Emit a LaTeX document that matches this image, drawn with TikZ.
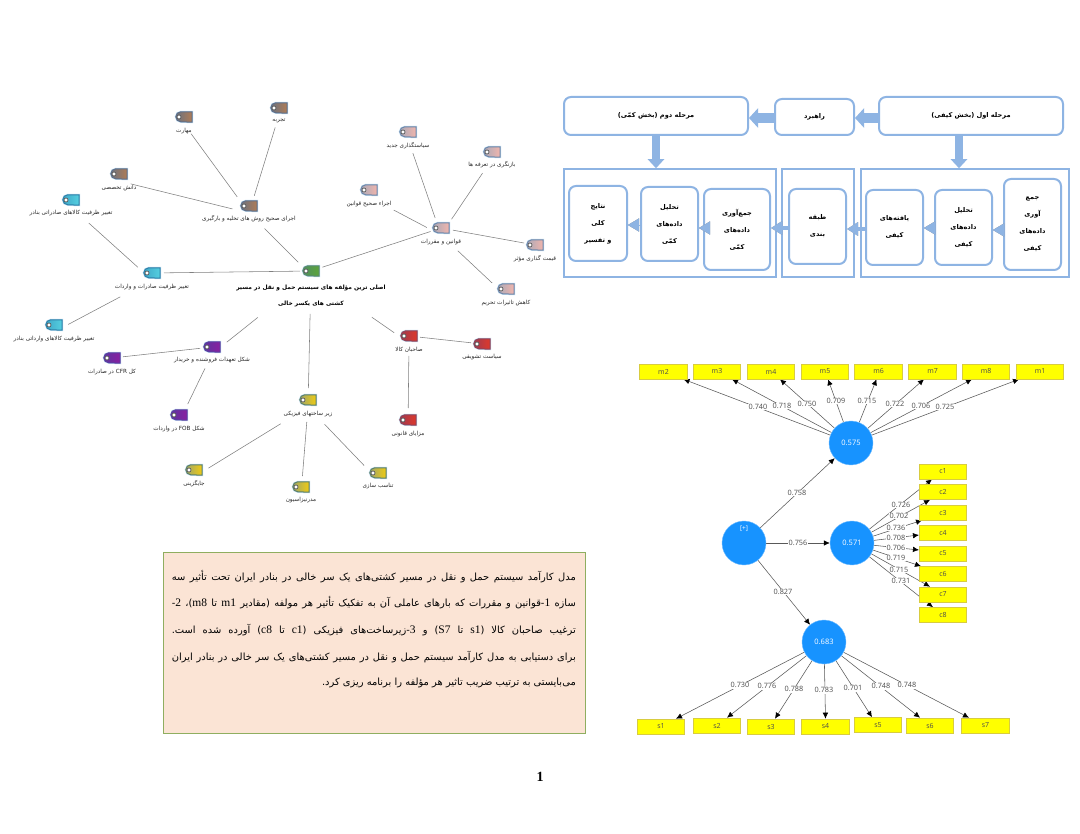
\documentclass[tikz,border=0pt]{standalone}
\usepackage{fontspec}
\usetikzlibrary{arrows.meta}
\setmainfont{Liberation Serif}
\newfontfamily\arabicfont[Script=Arabic]{DejaVu Sans}
\newfontfamily\semfont{Open Sans}
\TeXXeTstate=1
\pgfdeclarelayer{bgl}
\pgfsetlayers{bgl,main}
\definecolor{flow}{HTML}{8EB4E3}
\definecolor{semblue}{HTML}{1793FF}
\definecolor{ybord}{HTML}{D8CC40}
\definecolor{yfill}{HTML}{FFFF00}
\definecolor{notefill}{HTML}{FBE4D5}
\definecolor{noteborder}{HTML}{8FAE60}
\definecolor{halo}{HTML}{BFDDF2}
\definecolor{brF}{HTML}{B07C55}\definecolor{brL}{HTML}{6B7280}\definecolor{brB}{HTML}{5E6E88}
\definecolor{cyF}{HTML}{55CFE0}\definecolor{cyL}{HTML}{3FA8C8}\definecolor{cyB}{HTML}{2E80A8}
\definecolor{piF}{HTML}{F2B5AC}\definecolor{piL}{HTML}{A9A9B8}\definecolor{piB}{HTML}{6F86A8}
\definecolor{grF}{HTML}{5DA53A}\definecolor{grL}{HTML}{4F8F60}\definecolor{grB}{HTML}{5A8A70}
\definecolor{puF}{HTML}{8A1FA0}\definecolor{puL}{HTML}{5B35A0}\definecolor{puB}{HTML}{5A3FA0}
\definecolor{reF}{HTML}{E0382A}\definecolor{reL}{HTML}{A03A50}\definecolor{reB}{HTML}{8E4258}
\definecolor{yeF}{HTML}{F0CB12}\definecolor{yeL}{HTML}{A0A868}\definecolor{yeB}{HTML}{5E8068}
\newcommand{\la}[1]{\beginL #1\endL{}}
\newcommand{\nla}[1]{\beginL{\rmfamily\fontsize{11.5}{12}\selectfont #1}\endL{}}
\tikzset{
  x=1pt,y=-1pt,
  flowbox/.style={draw=flow,line width=2pt,fill=white,rounded corners=7pt,inner sep=0pt,align=center,font=\arabicfont\bfseries\fontsize{6.6}{17}\selectfont},
  frameb/.style={draw=flow,line width=1.5pt,inner sep=0pt},
  blockarr/.style={draw=flow,line width=10pt,-{Triangle[length=9pt,width=19pt]}},
  smallarr/.style={draw=flow,line width=#1,-{Triangle[length=11pt,width=13pt]}},
  smallshadow/.style={draw=black!45,line width=#1,-{Triangle[length=11pt,width=13pt]}},
  tagshape/.style={line width=1pt,preaction={draw=halo,line width=2pt}},
  tagbrown/.style={tagshape,draw=brB,left color=brL,middle color=brF,right color=brF},
  tagcyan/.style={tagshape,draw=cyB,left color=cyL,middle color=cyF,right color=cyF},
  tagpink/.style={tagshape,draw=piB,left color=piL,middle color=piF,right color=piF},
  taggreen/.style={tagshape,draw=grB,left color=grL,middle color=grF,right color=grF},
  tagpurple/.style={tagshape,draw=puB,left color=puL,middle color=puF,right color=puF},
  tagred/.style={tagshape,draw=reB,left color=reL,middle color=reF,right color=reF},
  tagyellow/.style={tagshape,draw=yeB,left color=yeL,middle color=yeF,right color=yeF},
  tagbase/.style={inner sep=0pt,minimum width=16pt,minimum height=10pt},
  tagdot/.style={circle,draw=black!65,fill=white,line width=0.7pt,minimum size=4pt,inner sep=0pt},
  taglabel/.style={inner sep=0pt,font=\arabicfont\fontsize{5.7}{7}\selectfont,text=black!85},
  mind/.style={draw=black!50,line width=0.55pt},
  ybox/.style={draw=ybord,line width=0.6pt,fill=yfill,minimum width=47.5pt,minimum height=15pt,inner sep=0pt,font=\semfont\fontsize{7}{8}\selectfont,text=black!70},
  semcirc/.style={circle,fill=semblue,draw=semblue!60!white,line width=0.4pt,minimum size=44pt,inner sep=0pt,text=white,font=\semfont\fontsize{7.5}{8}\selectfont},
  semline/.style={draw=black!65,line width=0.55pt,-{Latex[length=6pt,width=5.5pt,black]}},
  semlab/.style={fill=white,inner sep=0.8pt,font=\semfont\fontsize{7.3}{8}\selectfont,text=black!70},
  noteline/.style={anchor=east,inner sep=0pt,font=\arabicfont\fontsize{9.9}{12}\selectfont},
}
\newcommand{\tagbody}[4]{%
  \node[tagbase] (#1t) at (#2,#3) {};
  \path[#4] (#1t.north east) -- ([xshift=5pt]#1t.north west) arc (90:270:5pt) -- (#1t.south east) -- cycle;
  \node[tagdot] (#1d) at (#2-5,#3) {};
}
\newcommand{\tagitem}[6]{%
  \tagbody{#1}{#2}{#3}{#4}
  \node[taglabel] (#1l) at (#2,#3+#6) {#5};
  \coordinate (#1) at (#2,#3+7);
}
\newcommand{\conn}[4]{\draw[mind,shorten <=#3pt,shorten >=#4pt] (#1) -- (#2);}
\newcommand{\sembox}[4]{\node[ybox] (#1) at (#2,#3) {#4};}
\newcommand{\semarr}[6]{%
  \begin{pgfonlayer}{bgl}
  \draw[semline] (#2) -- (#3);
  \node[semlab] (#1) at (#4,#5) {#6};
  \end{pgfonlayer}
}
\newcommand{\flowsmall}[3]{%
  \draw[smallshadow=#3,shift={(0.6pt,-1.5pt)}] #1 -- #2;
  \draw[smallarr=#3] #1 -- #2;
}
\begin{document}
\begin{tikzpicture}
\useasboundingbox (0,0) rectangle (1080,834);
\begin{pgfonlayer}{bgl}
\fill[white] (0,0) rectangle (1080,834);
\end{pgfonlayer}

% ---------- mind map ----------
\tagitem{taj}{279}{108}{tagbrown}{\beginR تجربه\endR}{13}
\tagitem{mah}{184}{117}{tagbrown}{\beginR مهارت\endR}{14}
\tagitem{dan}{119}{174}{tagbrown}{\beginR دانش تخصصی\endR}{14}
\tagitem{hub}{249}{206}{tagbrown}{\beginR اجرای صحیح روش های تخلیه و بارگیری\endR}{13}
\tagitem{zs}{71}{200}{tagcyan}{\beginR تغییر ظرفیت کالاهای صادراتی بنادر\endR}{13}
\tagitem{sad}{152}{273}{tagcyan}{\beginR تغییر ظرفیت صادرات و واردات\endR}{14}
\tagitem{zv}{54}{325}{tagcyan}{\beginR تغییر ظرفیت کالاهای وارداتی بنادر\endR}{14}
\tagitem{qav}{441}{228}{tagpink}{\beginR قوانین و مقررات\endR}{14}
\tagitem{siy}{408}{132}{tagpink}{\beginR سیاستگذاری جدید\endR}{14}
\tagitem{bar}{492}{152}{tagpink}{\beginR بازنگری در تعرفه ها\endR}{13}
\tagitem{eja}{369}{190}{tagpink}{\beginR اجراء صحیح قوانین\endR}{14}
\tagitem{qey}{535}{245}{tagpink}{\beginR قیمت گذاری مؤثر\endR}{14}
\tagitem{kah}{506}{289}{tagpink}{\beginR کاهش تاثیرات تحریم\endR}{14}
\tagitem{sah}{409}{336}{tagred}{\beginR صاحبان کالا\endR}{14}
\tagitem{tash}{482}{344}{tagred}{\beginR سیاست تشویقی\endR}{13}
\tagitem{maz}{408}{420}{tagred}{\beginR مزایای قانونی\endR}{14}
\tagitem{sher}{212}{347}{tagpurple}{\beginR شکل تعهدات فروشنده و خریدار\endR}{13}
\tagitem{cfr}{112}{358}{tagpurple}{\beginR کل \la{CFR} در صادرات\endR}{14}
\tagitem{fob}{179}{415}{tagpurple}{\beginR شکل \la{FOB} در واردات\endR}{14}
\tagitem{zir}{308}{400}{tagyellow}{\beginR زیر ساختهای فیزیکی\endR}{14}
\tagitem{jay}{194}{470}{tagyellow}{\beginR جایگزینی\endR}{14}
\tagitem{mod}{301}{487}{tagyellow}{\beginR مدرنیزاسیون\endR}{13}
\tagitem{tan}{378}{473}{tagyellow}{\beginR تناسب سازی\endR}{13}
\tagbody{root}{311}{271}{taggreen}
\node[inner sep=0pt,align=center,font=\arabicfont\bfseries\fontsize{5.9}{16}\selectfont] (rootl) at (311,296)
  {\beginR اصلی ترین مؤلفه های سیستم حمل و نقل در مسیر\endR\\\beginR کشتی های یکسر خالی\endR};
\coordinate (root) at (311,275);

\conn{mah}{hub}{12}{20}
\conn{taj}{hub}{13}{18}
\conn{dan}{hub}{12}{17}
\conn{hub}{root}{22}{18}
\conn{sadt.center}{roott.center}{12}{11}
\conn{zs}{sad}{24}{19}
\conn{sad}{zv}{36}{16}
\conn{root}{sher}{68}{19}
\conn{shert.center}{cfrt.center}{12}{11}
\conn{sher}{fob}{16}{20}
\conn{root}{zir}{39}{19}
\conn{zir}{jay}{32}{17}
\conn{zir}{mod}{15}{18}
\conn{zir}{tan}{24}{20}
\conn{root}{sah}{74}{18}
\conn{saht.center}{tasht.center}{11}{11}
\conn{sah}{maz}{13}{19}
\conn{roott.center}{qavt.center}{12}{11}
\conn{siy}{qav}{15}{18}
\conn{bar}{qav}{17}{19}
\conn{eja}{qav}{28}{16}
\conn{qavt.center}{qeyt.center}{12}{11}
\conn{qav}{kah}{23}{19}

% ---------- flow chart ----------
\node[flowbox,minimum width=184pt,minimum height=38pt] (st2) at (656,116) {\beginR مرحله دوم (بخش کمّی)\endR};
\node[flowbox,minimum width=79pt,minimum height=36pt] (rah) at (814.5,117) {\beginR راهبرد\endR};
\node[flowbox,minimum width=184pt,minimum height=38pt] (st1) at (971,116) {\beginR مرحله اول (بخش کیفی)\endR};
\node[frameb,minimum width=212pt,minimum height=108pt] (frl) at (670,223) {};
\node[frameb,minimum width=72pt,minimum height=108pt] (frm) at (818,223) {};
\node[frameb,minimum width=208pt,minimum height=108pt] (frr) at (965,223) {};
\node[flowbox,minimum width=57pt,minimum height=91pt] (b1) at (1032.5,224.5)
  {\beginR جمع\endR\\\beginR آوری\endR\\\beginR داده‌های\endR\\\beginR کیفی\endR};
\node[flowbox,minimum width=57pt,minimum height=75pt] (b2) at (963.5,227.5)
  {\beginR تحلیل\endR\\\beginR داده‌های\endR\\\beginR کیفی\endR};
\node[flowbox,minimum width=57pt,minimum height=75pt] (b3) at (894.5,227.5)
  {\beginR یافته‌های\endR\\\beginR کیفی\endR};
\node[flowbox,minimum width=57pt,minimum height=75pt] (b4) at (817.5,226.5)
  {\beginR طبقه\endR\\\beginR بندی\endR};
\node[flowbox,minimum width=66pt,minimum height=81pt] (b5) at (737,229.5)
  {\beginR جمع‌آوری\endR\\\beginR داده‌های\endR\\\beginR کمّی\endR};
\node[flowbox,minimum width=57pt,minimum height=74pt] (b6) at (669.5,224)
  {\beginR تحلیل\endR\\\beginR داده‌های\endR\\\beginR کمّی\endR};
\node[flowbox,minimum width=58pt,minimum height=75pt] (b7) at (598,223.5)
  {\beginR نتایج\endR\\\beginR کلی\endR\\\beginR و تفسیر\endR};

\draw[blockarr] ([yshift=-2pt]st1.west) -- ([yshift=-2pt]st1.west -| rah.east);
\draw[blockarr] ([yshift=-1pt]rah.west) -- ([yshift=-1pt]rah.west -| st2.east);
\draw[blockarr,line width=8pt,-{Triangle[length=9pt,width=16pt]}] (st2.south) -- (st2.south |- frl.north);
\draw[blockarr,line width=8pt,-{Triangle[length=9pt,width=16pt]}] ([xshift=-12pt]st1.south) -- ([xshift=-12pt]st1.south |- frr.north);

\flowsmall{([yshift=-5.5pt]b1.west)}{([yshift=-5.5pt]b1.west -| b2.east)}{0.1pt}
\flowsmall{([yshift=-0.5pt]b2.west)}{([yshift=-0.5pt]b2.west -| b3.east)}{0.1pt}
\flowsmall{([yshift=-1.5pt]b3.west)}{([yshift=-1.5pt]b3.west -| b4.east)}{4pt}
\flowsmall{([yshift=-1.5pt]b4.west)}{([yshift=-1.5pt]b4.west -| b5.east)}{4pt}
\flowsmall{([xshift=6pt,yshift=1.5pt]b5.west)}{([yshift=1.5pt]b5.west -| b6.east)}{0.1pt}
\flowsmall{([yshift=-1pt]b6.west)}{([yshift=-1pt]b6.west -| b7.east)}{0.1pt}

% ---------- SEM model ----------
\node[semcirc] (c575) at (851,443) {0.575};
\node[semcirc] (c571) at (852,543) {0.571};
\node[semcirc] (c683) at (824,642) {0.683};
\node[semcirc] (cplus) at (744,543) {};
\node[inner sep=0pt,text=white,font=\semfont\fontsize{6.5}{8}\selectfont] (plus) at (744,529) {[+]};

\sembox{m2}{663.5}{371.5}{m2}
\sembox{m3}{717}{371.5}{m3}
\sembox{m4}{771}{371.5}{m4}
\sembox{m5}{825}{371.5}{m5}
\sembox{m6}{878.5}{371.5}{m6}
\sembox{m7}{932.5}{371.5}{m7}
\sembox{m8}{986}{371.5}{m8}
\sembox{m1}{1040}{371.5}{m1}
\sembox{c1}{943}{471.5}{c1}
\sembox{c2}{943}{492}{c2}
\sembox{c3}{943}{512.5}{c3}
\sembox{c4}{943}{533}{c4}
\sembox{c5}{943}{553.5}{c5}
\sembox{c6}{943}{574}{c6}
\sembox{c7}{943}{594.5}{c7}
\sembox{c8}{943}{615}{c8}
\sembox{s1}{661}{726.5}{s1}
\sembox{s2}{717}{725.5}{s2}
\sembox{s3}{771}{726.5}{s3}
\sembox{s4}{825.5}{726.5}{s4}
\sembox{s5}{878}{725}{s5}
\sembox{s6}{930}{725.5}{s6}
\sembox{s7}{985.5}{725.5}{s7}

\semarr{lm2}{c575}{[xshift=20pt]m2.south}{758}{407}{0.740}
\semarr{lm3}{c575}{[xshift=15pt]m3.south}{782}{406}{0.718}
\semarr{lm4}{c575}{[xshift=9pt]m4.south}{807}{404}{0.750}
\semarr{lm5}{c575}{[xshift=3pt]m5.south}{836}{401}{0.709}
\semarr{lm6}{c575}{[xshift=-2pt]m6.south}{867}{401}{0.715}
\semarr{lm7}{c575}{[xshift=-8.5pt]m7.south}{895}{404}{0.722}
\semarr{lm8}{c575}{[xshift=-14pt]m8.south}{921}{406}{0.706}
\semarr{lm1}{c575}{[xshift=-21pt]m1.south}{945}{407}{0.725}

\semarr{lc1}{c571}{[xshift=-11pt]c1.south}{901}{505}{0.726}
\semarr{lc2}{c571}{[xshift=-13pt]c2.south}{899}{516}{0.702}
\semarr{lc3}{c571}{[xshift=-21pt]c3.south}{896}{528}{0.736}
\semarr{lc4}{c571}{[yshift=-2pt]c4.west}{896}{538}{0.708}
\semarr{lc5}{c571}{[yshift=3.5pt]c5.west}{896}{548}{0.706}
\semarr{lc6}{c571}{[xshift=-22pt]c6.north}{896}{558}{0.719}
\semarr{lc7}{c571}{[xshift=-13pt]c7.north}{899}{570}{0.715}
\semarr{lc8}{c571}{[xshift=-10pt]c8.north}{901}{581}{0.731}

\semarr{ls1}{c683}{[xshift=15pt]s1.north}{740}{685}{0.730}
\semarr{ls2}{c683}{[xshift=10pt]s2.north}{767}{686}{0.776}
\semarr{ls3}{c683}{[xshift=4pt]s3.north}{794}{689}{0.788}
\semarr{ls4}{c683}{s4.north}{824}{690}{0.783}
\semarr{ls5}{c683}{[xshift=-6pt]s5.north}{853}{688}{0.701}
\semarr{ls6}{c683}{[xshift=-10pt]s6.north}{881}{686}{0.748}
\semarr{ls7}{c683}{[xshift=-16.5pt]s7.north}{907}{685}{0.748}

\semarr{lp1}{cplus}{c575}{797}{493}{0.758}
\semarr{lp2}{cplus}{c571}{798}{543}{0.756}
\semarr{lp3}{cplus}{c683}{783}{592}{0.827}

% ---------- note ----------
\node[draw=noteborder,line width=0.8pt,fill=notefill,minimum width=422pt,minimum height=181pt,inner sep=0pt] (note) at (374,642.5) {};
\node[noteline] (n1) at (576,577) {\hbox to 404pt{\beginR مدل کارآمد سیستم  حمل و نقل در مسیر کشتی‌های یک سر خالی در بنادر ایران تحت تأثیر سه\endR}};
\node[noteline] (n2) at (576,603) {\hbox to 404pt{\beginR سازه \nla{1}-قوانین و مقررات که بارهای عاملی آن به تفکیک تأثیر هر مولفه (مقادیر \nla{m1} تا \nla{m8})، \nla{2}-\endR}};
\node[noteline] (n3) at (576,630) {\hbox to 404pt{\beginR ترغیب صاحبان کالا (\nla{s1} تا \nla{S7}) و \nla{3}-زیرساخت‌های فیزیکی (\nla{c1} تا \nla{c8}) آورده شده است.\endR}};
\node[noteline] (n4) at (576,657) {\hbox to 404pt{\beginR برای دستیابی به مدل کارآمد سیستم  حمل و نقل در مسیر کشتی‌های یک سر خالی در بنادر ایران\endR}};
\node[noteline] (n5) at (576,683) {\beginR می‌بایستی به ترتیب ضریب تاثیر هر مؤلفه را برنامه ریزی کرد.\endR};

\node[inner sep=0pt,font=\fontsize{14}{16}\selectfont\bfseries] (pg) at (540,777) {1};
\end{tikzpicture}
\end{document}
